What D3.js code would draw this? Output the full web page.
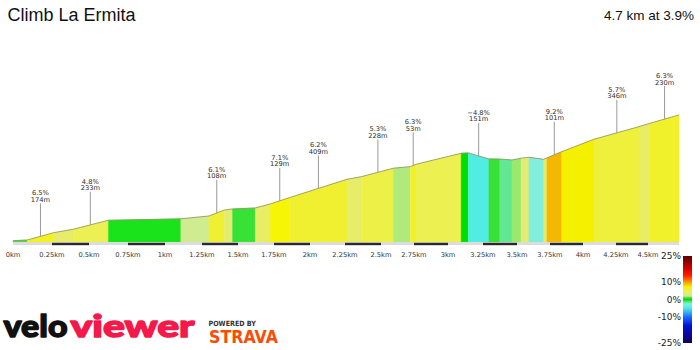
<!DOCTYPE html>
<html><head><meta charset="utf-8">
<script src="https://cdn.jsdelivr.net/npm/d3@7"></script>
<style>body{margin:0;background:#fff}svg{display:block}</style>
</head><body><svg id="c" width="700" height="350"></svg>
<script>
// ---------- data ----------
const title = "Climb La Ermita";
const summary = "4.7 km at 3.9%";
const tickKm = [0,0.25,0.5,0.75,1,1.25,1.5,1.75,2,2.25,2.5,2.75,3,3.25,3.5,3.75,4,4.25,4.5];
const tickLabels = ["0km","0.25km","0.5km","0.75km","1km","1.25km","1.5km","1.75km","2km","2.25km","2.5km","2.75km","3km","3.25km","3.5km","3.75km","4km","4.25km","4.5km"];
// profile break points (distance km, elevation m)
const pointKm = [0,0.091,0.261,0.393,0.624,1.107,1.298,1.407,1.462,1.620,1.724,1.856,2.264,2.364,2.593,2.722,2.766,3.094,3.145,3.293,3.374,3.463,3.531,3.590,3.703,3.726,3.839,4.083,4.430,4.516,4.743];
const pointElev = [591.9,592.9,603.5,608.4,621.5,623.6,627.7,636.4,637.9,639.3,645.1,654.2,680.9,684.7,696.9,699.2,702.7,718.6,719.1,710.4,710.2,708.9,711.4,712.8,709.9,711.8,720.9,738.9,757.2,762.1,774.2];
// gradient (%) of each segment between break points
const segGrade = [1.0,6.5,3.8,4.8,0.4,2.2,6.1,3.5,0.9,4.0,7.1,6.2,3.8,5.3,1.8,6.3,4.9,0.0,-4.8,0.9,-1.5,1.6,3.5,-2.6,3.5,9.2,7.4,5.7,4.0,6.3];
// callouts
const labelSeg = [1,3,6,10,11,13,15,18,25,27,29];
const labelGrade = [6.5,4.8,6.1,7.1,6.2,5.3,6.3,-4.8,9.2,5.7,6.3];
const labelLen = [174,233,108,129,409,228,53,151,101,346,230];
// legend
const legendTicks = [25,10,0,-10,-25];
const gradeStops = [-25,-15,-10,-4.8,-2.6,-1.5,0,0.5,1,1.7,2.2,3.7,4.8,6.2,7.2,9.2,11,14,18,25];
const gradeColors = ["#12005a","#0010d8","#1c6cff","#50eee2","#82eedc","#62e892","#00dd00","#22e422","#3ce03a","#a8ea78","#d0ec90","#e6ec6c","#ecf052","#f0f030","#f5f500","#f5b800","#ff7a00","#ff1a00","#d00000","#5a0000"];

// ---------- layout ----------
const tickPx = [13,52,89,128,165,202,238,274,310,345,381,414,448,483,517,550,583,616,648];
const baseY = 242;
const svg = d3.select("#c");
const x = d3.scaleLinear().domain(tickKm).range(tickPx);
const y = d3.scaleLinear().domain([590,790]).range([baseY,104]);
const color = d3.scaleLinear().domain(gradeStops).range(gradeColors).clamp(true);

// title
svg.append("text").attr("x",7.5).attr("y",21).attr("font-family","'Liberation Sans',Arial,sans-serif")
  .attr("font-size",18).attr("fill","#111").text(title);
svg.append("text").attr("x",694).attr("y",20).attr("text-anchor","end").attr("font-family","'Liberation Sans',Arial,sans-serif")
  .attr("font-size",13.5).attr("fill","#111").text(summary);

// segments
const pts = pointKm.map((k,i)=>({km:k,e:pointElev[i]}));
const area = d3.area().x(d=>x(d.km)).y0(baseY).y1(d=>y(d.e));
const gSeg = svg.append("g");
segGrade.forEach((g,i)=>{
  gSeg.append("path").attr("d",area([pts[i],pts[i+1]]))
    .attr("fill",color(g)).attr("stroke",color(g)).attr("stroke-width",0.4);
});
svg.append("path").attr("d",d3.line().x(d=>x(d.km)).y(d=>y(d.e))(pts))
  .attr("fill","none").attr("stroke","#8f8f60").attr("stroke-width",0.8);

// base band and alternating bars
const endKm = pointKm[pointKm.length-1];
svg.append("rect").attr("x",x(0)).attr("y",baseY).attr("width",x(endKm)-x(0)).attr("height",3).attr("fill","#dcdcdc");
for(let i=1;i<tickKm.length-1;i+=2){
  svg.append("rect").attr("x",x(tickKm[i])).attr("y",baseY+0.8).attr("width",x(tickKm[i+1])-x(tickKm[i])).attr("height",2.4).attr("fill","#2a2a2a");
}

// axis labels
const axisG = svg.append("g").attr("font-family","'DejaVu Sans',Verdana,sans-serif").attr("font-size",6.7).attr("fill","#333").attr("text-anchor","middle");
tickKm.forEach((k,i)=>{
  axisG.append("text").attr("x",x(k)).attr("y",256.5).text(tickLabels[i]);
});

// callouts
const fmt = d3.format(".1f");
const lab = svg.append("g").attr("font-family","'DejaVu Sans',Verdana,sans-serif").attr("font-size",6.7).attr("fill","#2a2a2a").attr("text-anchor","middle");
labelSeg.forEach((s,k)=>{
  const a = pts[s], b = pts[s+1];
  const mk = (a.km+b.km)/2, me = (a.e+b.e)/2;
  const px = x(mk), py = y(me);
  lab.append("line").attr("x1",px).attr("x2",px).attr("y1",py-33).attr("y2",py).attr("stroke","#999").attr("stroke-width",1);
  lab.append("text").attr("x",px).attr("y",py-41).text(fmt(labelGrade[k])+"%");
  lab.append("text").attr("x",px).attr("y",py-34.5).text(labelLen[k]+"m");
});

// legend
const defs = svg.append("defs");
const lg = defs.append("linearGradient").attr("id","lg").attr("x1",0).attr("x2",0).attr("y1",0).attr("y2",1);
const ly = d3.scaleLinear().domain([25,-25]).range([256,343]);
gradeStops.slice().reverse().forEach((g)=>{
  lg.append("stop").attr("offset",(25-g)/50).attr("stop-color",color(g));
});
svg.append("rect").attr("x",683).attr("y",ly(25)).attr("width",9).attr("height",ly(-25)-ly(25)).attr("fill","url(#lg)");
const legG = svg.append("g").attr("font-family","'DejaVu Sans',Verdana,sans-serif").attr("font-size",9).attr("fill","#222").attr("text-anchor","end");
legendTicks.forEach(v=>{
  legG.append("text").attr("x",681).attr("y",ly(v)+3.3).text(v+"%");
});

// logos
svg.append("text").attr("x",3.5).attr("y",337).attr("font-family","Lato,'DejaVu Sans',sans-serif").attr("font-weight",900)
  .attr("font-size",31).attr("textLength",64).attr("lengthAdjust","spacingAndGlyphs").attr("fill","#111")
  .attr("stroke","#111").attr("stroke-width",1.4).attr("stroke-linejoin","round").text("velo");
svg.append("text").attr("x",70.5).attr("y",337).attr("font-family","Lato,'DejaVu Sans',sans-serif").attr("font-weight",900)
  .attr("font-size",31).attr("textLength",124).attr("lengthAdjust","spacingAndGlyphs").attr("fill","#f5184a")
  .attr("stroke","#f5184a").attr("stroke-width",1.4).attr("stroke-linejoin","round").text("viewer");
svg.append("text").attr("x",208.5).attr("y",326).attr("font-family","'DejaVu Sans',sans-serif").attr("font-weight",700)
  .attr("font-size",7.2).attr("textLength",47.5).attr("lengthAdjust","spacingAndGlyphs").attr("fill","#333").text("POWERED BY");
svg.append("text").attr("x",209).attr("y",343.3).attr("font-family","'DejaVu Sans',sans-serif").attr("font-weight",900)
  .attr("font-size",17.3).attr("textLength",69).attr("lengthAdjust","spacingAndGlyphs").attr("fill","#fc4c02").text("STRAVA");
</script></body></html>
